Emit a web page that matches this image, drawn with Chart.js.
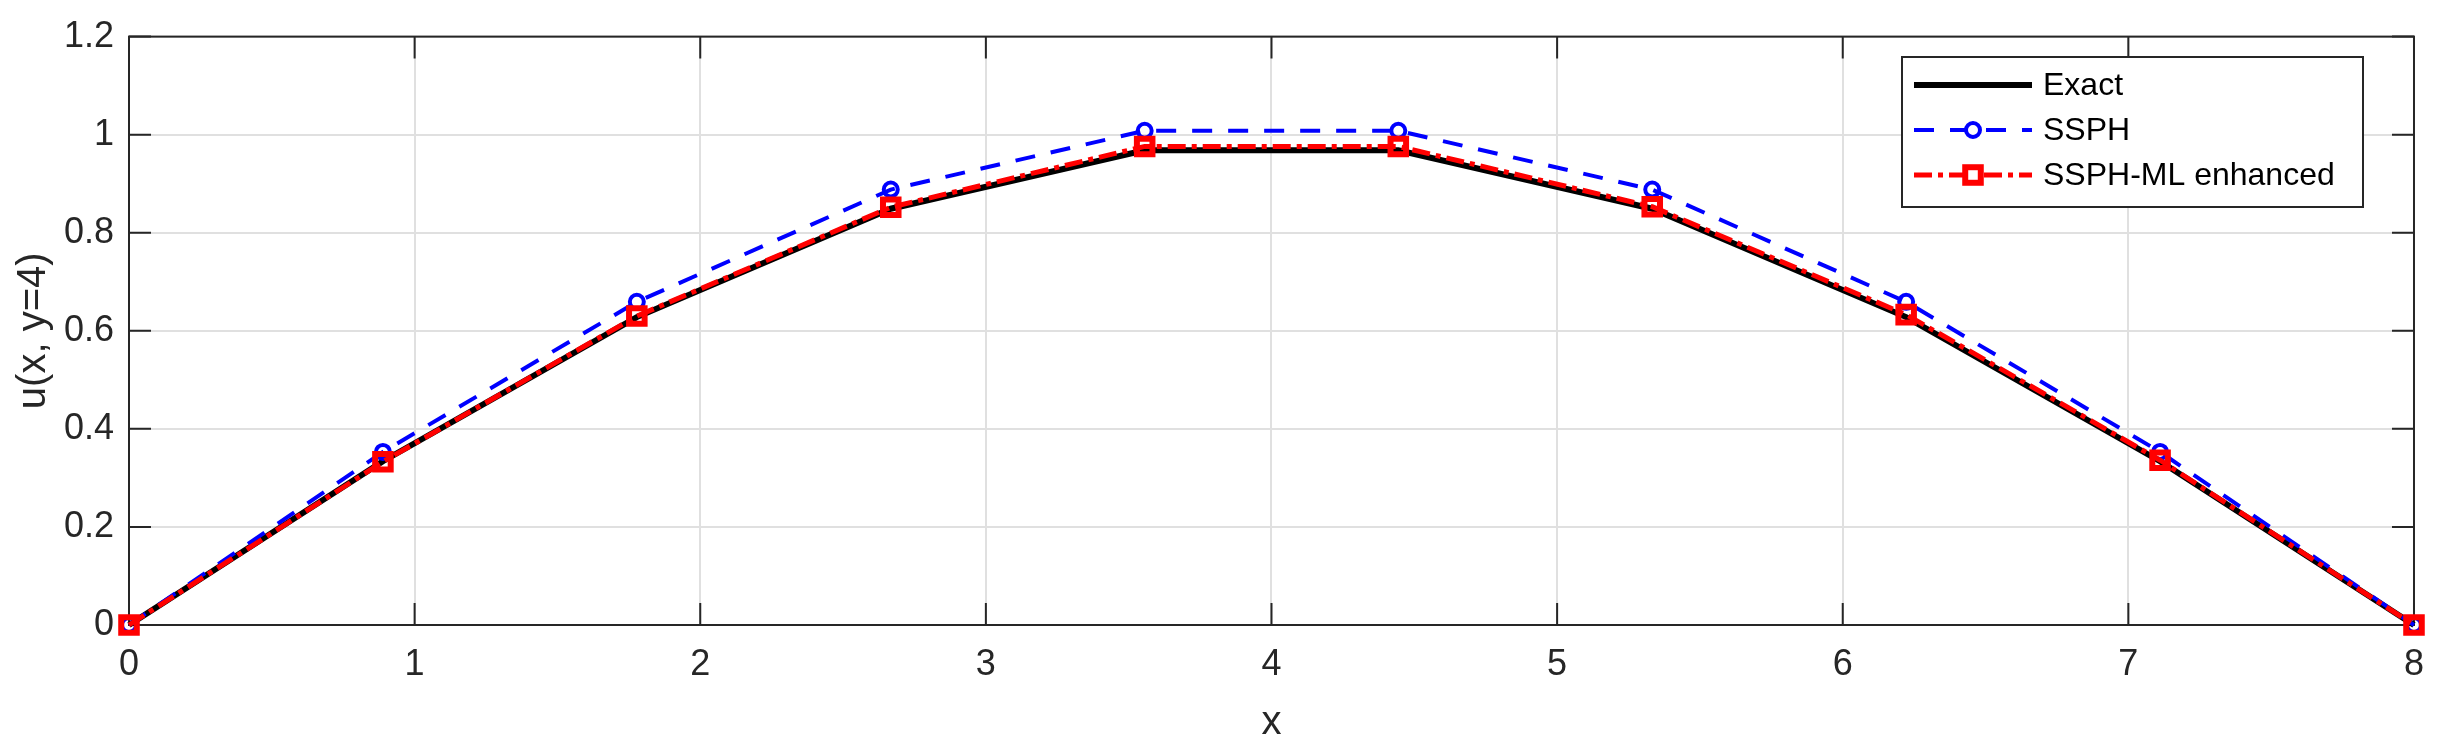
<!DOCTYPE html>
<html>
<head>
<meta charset="utf-8">
<script src="https://cdn.jsdelivr.net/npm/chart.js@4.4.1/dist/chart.umd.min.js"></script>
<style>
  html, body { margin: 0; padding: 0; background: #fff; }
  #wrap { width: 2442px; height: 750px; }
</style>
</head>
<body>
<div id="wrap"><canvas id="uChart" width="2442" height="750"></canvas></div>
<script>
// values
var xValues = [0, 0.889, 1.778, 2.667, 3.556, 4.444, 5.333, 6.222, 7.111, 8];
var exactValues = [0, 0.334, 0.628, 0.849, 0.968, 0.968, 0.849, 0.628, 0.334, 0];
var ssphValues = [0, 0.353, 0.659, 0.888, 1.008, 1.008, 0.888, 0.659, 0.353, 0];
var mlValues = [0, 0.333, 0.630, 0.852, 0.976, 0.976, 0.853, 0.633, 0.336, 0];
var seriesNames = ['Exact', 'SSPH', 'SSPH-ML enhanced'];
var xTicks = [0, 1, 2, 3, 4, 5, 6, 7, 8];
var yTicks = [0, 0.2, 0.4, 0.6, 0.8, 1, 1.2];
var yTickLabels = ['0', '0.2', '0.4', '0.6', '0.8', '1', '1.2'];

var FONT = '"Liberation Sans", Arial, Helvetica, sans-serif';
var AXIS = '#262626';

function toPoints(ys) {
    return xValues.map(function (x, i) { return { x: x, y: ys[i] }; });
}

// MATLAB style box with inward ticks
var boxPlugin = {
    id: 'boxPlugin',
    beforeDatasetsDraw: function (chart) {
        var ctx = chart.ctx, a = chart.chartArea;
        var sx = chart.scales.x, sy = chart.scales.y;
        var len = 22;
        ctx.save();
        ctx.strokeStyle = AXIS;
        ctx.lineWidth = 2;
        ctx.strokeRect(a.left, a.top, a.right - a.left, a.bottom - a.top);
        ctx.beginPath();
        xTicks.forEach(function (v) {
            var px = sx.getPixelForValue(v);
            ctx.moveTo(px, a.bottom); ctx.lineTo(px, a.bottom - len);
            ctx.moveTo(px, a.top); ctx.lineTo(px, a.top + len);
        });
        yTicks.forEach(function (v) {
            var py = sy.getPixelForValue(v);
            ctx.moveTo(a.left, py); ctx.lineTo(a.left + len, py);
            ctx.moveTo(a.right, py); ctx.lineTo(a.right - len, py);
        });
        ctx.stroke();
        ctx.restore();
    }
};

var legendPlugin = {
    id: 'legendPlugin',
    afterDraw: function (chart) {
        var ctx = chart.ctx;
        var bx = 1902, by = 57, bw = 461, bh = 150;
        ctx.save();
        ctx.fillStyle = '#fff';
        ctx.fillRect(bx, by, bw, bh);
        ctx.strokeStyle = AXIS;
        ctx.lineWidth = 2;
        ctx.strokeRect(bx, by, bw, bh);
        chart.data.datasets.forEach(function (ds, i) {
            var y = by + 28 + i * 45;
            var x0 = bx + 12, x1 = bx + 130;
            ctx.beginPath();
            ctx.setLineDash(ds.borderDash || []);
            ctx.strokeStyle = ds.borderColor;
            ctx.lineWidth = ds.borderWidth;
            ctx.moveTo(x0, y); ctx.lineTo(x1, y);
            ctx.stroke();
            ctx.setLineDash([]);
            if (ds.pointRadius > 0) {
                ctx.lineWidth = ds.pointBorderWidth;
                ctx.strokeStyle = ds.pointBorderColor;
                ctx.fillStyle = '#fff';
                var mx = (x0 + x1) / 2;
                if (ds.pointStyle === 'rect') {
                    var s = ds.pointRadius * Math.SQRT1_2;
                    ctx.fillRect(mx - s, y - s, 2 * s, 2 * s);
                    ctx.strokeRect(mx - s, y - s, 2 * s, 2 * s);
                } else {
                    ctx.beginPath();
                    ctx.arc(mx, y, ds.pointRadius, 0, Math.PI * 2);
                    ctx.fill();
                    ctx.stroke();
                }
            }
            ctx.fillStyle = '#000';
            ctx.font = '32px ' + FONT;
            ctx.textBaseline = 'middle';
            ctx.textAlign = 'left';
            ctx.fillText(ds.label, bx + 141, y + 1);
        });
        ctx.restore();
    }
};

var ctx = document.getElementById('uChart').getContext('2d');
var chart = new Chart(ctx, {
    type: 'scatter',
    data: {
        datasets: [{
            label: seriesNames[0],
            data: toPoints(exactValues),
            showLine: true,
            borderColor: '#000000',
            borderWidth: 6,
            pointRadius: 0,
            clip: false,
            order: 3
        }, {
            label: seriesNames[1],
            data: toPoints(ssphValues),
            showLine: true,
            borderColor: '#0000ff',
            borderWidth: 4,
            borderDash: [20, 16],
            pointStyle: 'circle',
            pointRadius: 7,
            pointBorderWidth: 4,
            pointBorderColor: '#0000ff',
            pointBackgroundColor: 'rgba(255,255,255,0)',
            clip: false,
            order: 2
        }, {
            label: seriesNames[2],
            data: toPoints(mlValues),
            showLine: true,
            borderColor: '#ff0000',
            borderWidth: 5,
            borderDash: [18, 6, 5, 6],
            pointStyle: 'rect',
            pointRadius: 11,
            pointBorderWidth: 6,
            pointBorderColor: '#ff0000',
            pointBackgroundColor: 'rgba(255,255,255,0)',
            clip: false,
            order: 1
        }]
    },
    options: {
        responsive: false,
        animation: false,
        layout: { padding: { top: 31, right: 28, left: 0, bottom: 0 } },
        plugins: {
            legend: { display: false },
            tooltip: { enabled: false }
        },
        scales: {
            x: {
                type: 'linear',
                min: 0,
                max: 8,
                afterFit: function (s) { s.height = 125; },
                afterBuildTicks: function (s) { s.ticks = xTicks.map(function (v) { return { value: v }; }); },
                ticks: { font: { family: FONT, size: 36 }, color: AXIS, padding: 18, maxRotation: 0 },
                grid: { color: '#e0e0e0', lineWidth: 2, drawTicks: false },
                border: { display: false },
                title: { display: true, text: 'x', color: AXIS, font: { family: FONT, size: 40 }, padding: { top: 0, bottom: 3 } }
            },
            y: {
                type: 'linear',
                min: 0,
                max: 1.2,
                afterFit: function (s) { s.width = 129; },
                afterBuildTicks: function (s) { s.ticks = yTicks.map(function (v) { return { value: v }; }); },
                ticks: {
                    font: { family: FONT, size: 36 }, color: AXIS, padding: 15,
                    callback: function (v) { return yTickLabels[yTicks.indexOf(+v.toFixed(1))]; }
                },
                grid: { color: '#e0e0e0', lineWidth: 2, drawTicks: false },
                border: { display: false },
                title: { display: true, text: 'u(x, y=4)', color: AXIS, font: { family: FONT, size: 40 }, padding: { top: 10, bottom: 0 } }
            }
        }
    },
    plugins: [boxPlugin, legendPlugin]
});
</script>
</body>
</html>
